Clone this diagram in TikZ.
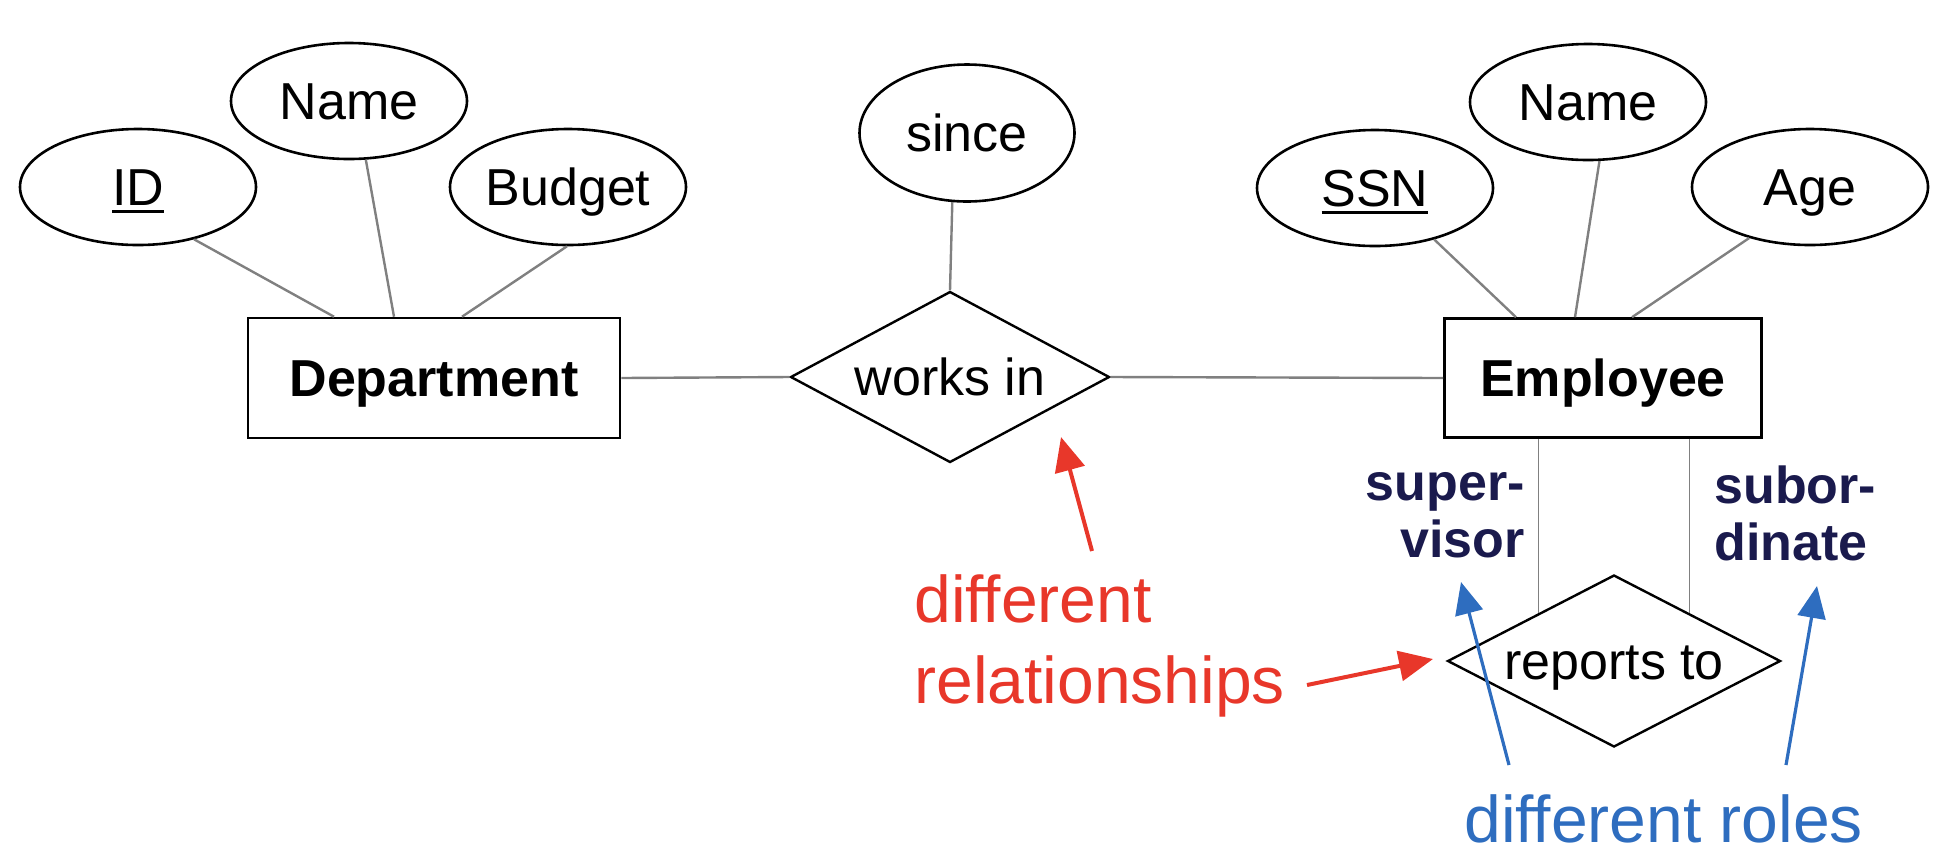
\documentclass[tikz,border=0pt]{standalone}
\usepackage{fontspec}
\setmainfont{Liberation Sans}
\usetikzlibrary{shapes.geometric,arrows.meta,calc}
\definecolor{linegray}{RGB}{128,128,128}
\definecolor{annred}{RGB}{232,55,42}
\definecolor{annblue}{RGB}{46,109,191}
\definecolor{rolenavy}{RGB}{26,26,77}
\newcommand{\keyattr}[1]{\setbox0\hbox{#1}\rlap{\rule[-3.6pt]{\wd0}{1.4pt}}\box0}
\begin{document}
\begin{tikzpicture}[x=0.5pt,y=-0.5pt,
  erfont/.style={font=\fontsize{26}{30}\selectfont,text height=18.6pt,text depth=0pt},
  attr/.style={ellipse,draw=black,line width=1.3pt,minimum width=118pt,minimum height=58pt,inner sep=0pt,erfont},
  entity/.style={rectangle,draw=black,line width=1.3pt,inner sep=0pt,erfont,font=\fontsize{26}{30}\selectfont\bfseries},
  rel/.style={diamond,aspect=2,draw=black,line width=1.2pt,inner sep=0pt,erfont},
  conn/.style={draw=linegray,line width=1.2pt},
  roleconn/.style={draw=linegray,line width=0.9pt},
  role/.style={font=\fontsize{26}{28.5}\selectfont\bfseries,text=rolenavy,inner sep=0pt},
  redarrow/.style={draw=annred,line width=2pt,-{Triangle[length=17pt,width=15pt]}},
  bluearrow/.style={draw=annblue,line width=1.6pt,-{Triangle[length=16pt,width=14pt]}},
  note/.style={font=\fontsize{33}{40.5}\selectfont,inner sep=0pt}
]
\useasboundingbox (0,0) rectangle (1948,864);

% Department side
\node[attr] (id) at (138,187) {\keyattr{ID}};
\node[attr] (dname) at (349,101) {Name};
\node[attr] (budget) at (568,187) {Budget};
\node[entity,minimum width=186pt,minimum height=60pt] (dept) at (434,378) {Department};

% works in
\node[attr,minimum width=107.5pt,minimum height=68.5pt] (since) at (967,133) {since};
\node[rel,minimum width=159.5pt,minimum height=85.5pt] (works) at (950,377) {works in};

% Employee side
\node[entity,minimum width=158.5pt,minimum height=59.5pt] (emp) at (1603,378) {Employee};
\node[attr] (ssn) at (1375,188) {\keyattr{SSN}};
\node[attr] (ename) at (1588,102) {Name};
\node[attr] (age) at (1810,187) {Age};

% reports to
\node[rel,minimum width=166.5pt,minimum height=86pt] (rep) at (1614,661) {reports to};

% attribute connectors
\draw[conn] (id.-43) -- ([xshift=-50pt]dept.north);
\draw[conn] (dname.-74) -- ([xshift=-20pt]dept.north);
\draw[conn] (budget.-91) -- ([xshift=14pt]dept.north);
\draw[conn] (since.-102) -- (works.north);
\draw[conn] (ssn.-41) -- ([xshift=-43.5pt]emp.north);
\draw[conn] (ename.-79) -- ([xshift=-14pt]emp.north);
\draw[conn] (age.-140) -- ([xshift=14.5pt]emp.north);

% relationship connectors
\draw[conn] (dept.east) -- (works.west);
\draw[conn] (works.east) -- (emp.west);
\coordinate (rl) at ($(rep.north)!0.45!(rep.west)$);
\coordinate (rr) at ($(rep.north)!0.45!(rep.east)$);
\draw[roleconn] (emp.south -| rl) -- (rl);
\draw[roleconn] (emp.south -| rr) -- (rr);

% role labels (base anchor = last line baseline)
\node[role,anchor=base east,align=right] (sup) at (1525,557) {super-\\visor};
\node[role,anchor=base west,align=left] (sub) at (1714,560) {subor-\\dinate};

% annotations
\node[note,text=annred,anchor=base west,align=left] (relnote) at (914,703) {different\\relationships};
\node[note,text=annblue,anchor=base west] (rolenote) at (1464,842) {different roles};

\coordinate (ra1s) at (1092,551);
\coordinate (ra1e) at (1061,437);
\coordinate (ra2s) at (1307,685);
\coordinate (ra2e) at (1433,659);
\coordinate (ba1s) at (1509,765);
\coordinate (ba1e) at (1461,582);
\coordinate (ba2s) at (1786,765);
\coordinate (ba2e) at (1817,586);
\draw[redarrow] (ra1s) -- (ra1e);
\draw[redarrow] (ra2s) -- (ra2e);
\draw[bluearrow] (ba1s) -- (ba1e);
\draw[bluearrow] (ba2s) -- (ba2e);
\end{tikzpicture}
\end{document}
